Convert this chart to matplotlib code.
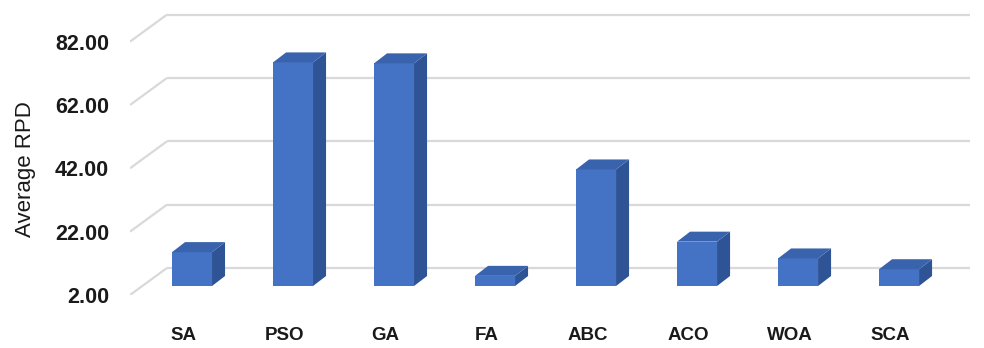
import numpy as np
import matplotlib
matplotlib.use("Agg")
import matplotlib.pyplot as plt
from matplotlib.patches import Polygon

algorithms = ["SA", "PSO", "GA", "FA", "ABC", "ACO", "WOA", "SCA"]
avg_rpd = [12.7, 72.6, 72.3, 5.2, 38.8, 16.0, 10.7, 7.3]
ytick_vals = [2, 22, 42, 62, 82]
ytick_labels = ["2.00", "22.00", "42.00", "62.00", "82.00"]

front_c = "#4472C4"
side_c = "#2F5496"
top_c = "#3A63AE"
grid_c = "#D9D9D9"

# pseudo-3d offsets (category units, value units)
wall_dx, wall_dy = 0.366, 8.53
bar_dx, bar_dy = 0.129, 3.16
bar_lift = 2.84      # bars sit a bit behind the front plane
ymin = 2.0

fig = plt.figure(figsize=(9.84, 3.48), dpi=100)
ax = fig.add_axes([130/984, 53/348, 845/984, 294.5/348])
ax.set_xlim(-0.614, 7.752)
ax.set_ylim(ymin, ymin + 294.5/3.167)
for s in ax.spines.values():
    s.set_visible(False)

x0 = -0.614
for v in ytick_vals:
    ax.plot([x0, x0 + wall_dx], [v, v + wall_dy], color=grid_c, lw=1.6, zorder=1,
            solid_capstyle="butt")
    ax.plot([x0 + wall_dx, 7.70], [v + wall_dy, v + wall_dy], color=grid_c, lw=1.6,
            zorder=1, solid_capstyle="butt")

x = np.arange(len(algorithms))
heights = np.array(avg_rpd) - ymin
bars = ax.bar(x, heights, bottom=ymin + bar_lift, width=0.396, color=front_c,
              zorder=3, linewidth=0)
for b in bars:
    l, r = b.get_x(), b.get_x() + b.get_width()
    bot, top = b.get_y(), b.get_y() + b.get_height()
    ax.add_patch(Polygon([(r, bot), (r, top), (r + bar_dx, top + bar_dy),
                          (r + bar_dx, bot + bar_dy)], closed=True,
                         facecolor=side_c, edgecolor="none", zorder=3))
    ax.add_patch(Polygon([(l, top), (r, top), (r + bar_dx, top + bar_dy),
                          (l + bar_dx, top + bar_dy)], closed=True,
                         facecolor=top_c, edgecolor="none", zorder=3))

ax.set_yticks(ytick_vals)
ax.set_yticklabels(ytick_labels, fontfamily="Liberation Sans", fontweight="bold",
                   fontsize=15.5, color="#1a1a1a")
ax.set_xticks(x - 0.085)
ax.set_xticklabels(algorithms, fontfamily="Liberation Sans", fontweight="bold",
                   fontsize=13.5, color="#1a1a1a")
ax.tick_params(axis="y", length=0, pad=15)
ax.tick_params(axis="x", length=0, pad=23)

fig.text(25/984, 1 - 169/348, "Average RPD", rotation=90, ha="center", va="center",
         fontfamily="Liberation Sans", fontsize=16, color="#1a1a1a")

fig.savefig("out.png", dpi=100, facecolor="white")
